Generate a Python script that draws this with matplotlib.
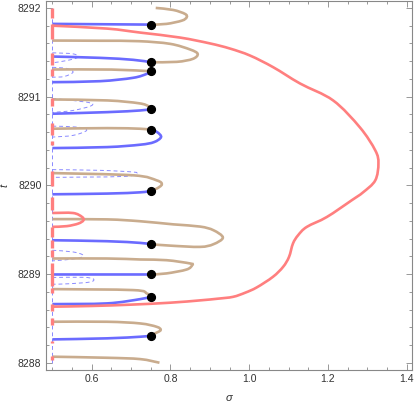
import matplotlib
matplotlib.use("Agg")
import matplotlib.pyplot as plt
import numpy as np
from matplotlib.path import Path
from matplotlib.patches import PathPatch
from matplotlib.ticker import MultipleLocator

plt.rcParams['font.family'] = ['Liberation Sans', 'DejaVu Sans']

BLUE = '#6B6BFF'
TAN = '#C9AC8E'
RED = '#FF7F7F'
DASH = '#8A8AFF'

# ---- data (sigma, t) ----
red_main_s = [0.50, 0.60, 0.70, 0.80, 0.875, 0.92, 0.959, 0.99, 1.019, 1.060, 1.086, 1.101,
              1.111, 1.124, 1.146, 1.197, 1.260, 1.289, 1.320, 1.328, 1.320, 1.281, 1.213,
              1.129, 1.061, 1.002, 0.951, 0.900, 0.824, 0.723, 0.639, 0.50]
red_main_t = [8288.632, 8288.640, 8288.655, 8288.677, 8288.703, 8288.722, 8288.743, 8288.79,
              8288.849, 8288.968, 8289.081, 8289.193, 8289.344, 8289.437, 8289.531, 8289.643,
              8289.831, 8289.921, 8290.056, 8290.248, 8290.394, 8290.653, 8290.957, 8291.148,
              8291.331, 8291.463, 8291.542, 8291.600, 8291.666, 8291.722, 8291.767, 8291.80]

red_loop_s = [0.5, 0.5525, 0.575, 0.579, 0.566, 0.537, 0.5]
red_loop_t = [8289.688, 8289.688, 8289.645, 8289.606, 8289.569, 8289.540, 8289.532]

# red pieces on the critical line sigma = 1/2 (t ranges)
red_line_segments = [(8291.89, 8292.0), (8291.655, 8291.823), (8291.351, 8291.497),
                     (8291.238, 8291.317), (8290.889, 8290.990), (8290.572, 8290.707),
                     (8290.453, 8290.495), (8289.989, 8290.158), (8289.719, 8289.865),
                     (8289.416, 8289.529), (8289.288, 8289.381), (8289.193, 8289.268),
                     (8288.866, 8289.122), (8288.781, 8288.838), (8288.58, 8288.657),
                     (8288.42, 8288.50), (8288.22, 8288.245), (8288.03, 8288.075)]

tan_curves = [
    ([0.7625, 0.807, 0.837, 0.841, 0.829, 0.790, 0.75],
     [8292.0, 8291.977, 8291.932, 8291.894, 8291.857, 8291.82, 8291.812]),
    ([0.5, 0.62, 0.72, 0.799, 0.850, 0.869, 0.857, 0.816, 0.75],
     [8291.632, 8291.63, 8291.625, 8291.595, 8291.531, 8291.482, 8291.426, 8291.392, 8291.388]),
    ([0.5, 0.65, 0.75],
     [8291.306, 8291.305, 8291.286]),
    ([0.5, 0.64, 0.72, 0.745, 0.75],
     [8290.968, 8290.957, 8290.925, 8290.89, 8290.859]),
    ([0.5, 0.639, 0.723, 0.75],
     [8290.638, 8290.645, 8290.638, 8290.627]),
    ([0.5, 0.705, 0.765, 0.778, 0.765, 0.75],
     [8290.138, 8290.113, 8290.056, 8290.011, 8289.963, 8289.938]),
    ([0.5, 0.639, 0.723, 0.807, 0.875, 0.909, 0.933, 0.909, 0.875, 0.80, 0.75],
     [8289.619, 8289.616, 8289.595, 8289.56, 8289.535, 8289.494, 8289.411, 8289.336,
      8289.306, 8289.32, 8289.336]),
    ([0.5, 0.639, 0.723, 0.790, 0.850, 0.855, 0.841, 0.790, 0.75],
     [8289.175, 8289.175, 8289.164, 8289.156, 8289.119, 8289.100, 8289.051, 8289.007, 8288.995]),
    ([0.5, 0.705, 0.740, 0.75],
     [8288.830, 8288.819, 8288.781, 8288.743]),
    ([0.5, 0.639, 0.723, 0.765, 0.775, 0.761, 0.75],
     [8288.462, 8288.462, 8288.443, 8288.405, 8288.368, 8288.331, 8288.304]),
    ([0.5, 0.639, 0.723, 0.772],
     [8288.068, 8288.056, 8288.041, 8288.0]),
]

blue_curves = [
    ([0.5, 0.75], [8291.82, 8291.812]),
    ([0.5, 0.621, 0.705, 0.75], [8291.452, 8291.437, 8291.415, 8291.388]),
    ([0.5, 0.621, 0.705, 0.740, 0.75], [8291.163, 8291.174, 8291.212, 8291.257, 8291.286]),
    ([0.5, 0.639, 0.723, 0.75], [8290.807, 8290.825, 8290.844, 8290.859]),
    ([0.75, 0.766, 0.776, 0.758, 0.723, 0.639, 0.5],
     [8290.627, 8290.60, 8290.544, 8290.487, 8290.458, 8290.431, 8290.420]),
    ([0.5, 0.639, 0.723, 0.75], [8289.899, 8289.907, 8289.921, 8289.938]),
    ([0.5, 0.639, 0.723, 0.75], [8289.381, 8289.370, 8289.351, 8289.336]),
    ([0.5, 0.75], [8288.995, 8288.995]),
    ([0.5, 0.639, 0.723, 0.75], [8288.661, 8288.669, 8288.717, 8288.743]),
    ([0.5, 0.639, 0.723, 0.75], [8288.263, 8288.275, 8288.293, 8288.304]),
]

dashed_curves = [
    ([0.5, 0.5525, 0.565, 0.537, 0.5], [8291.494, 8291.482, 8291.444, 8291.407, 8291.381]),
    ([0.5, 0.537, 0.5525, 0.530, 0.5], [8291.331, 8291.317, 8291.275, 8291.227, 8291.219]),
    ([0.5, 0.587, 0.600, 0.5525, 0.5], [8290.979, 8290.938, 8290.90, 8290.844, 8290.822]),
    ([0.5, 0.565, 0.587, 0.5525, 0.5], [8290.667, 8290.656, 8290.619, 8290.563, 8290.544]),
    ([0.5, 0.621, 0.705, 0.713, 0.688, 0.578, 0.5],
     [8290.177, 8290.169, 8290.150, 8290.132, 8290.101, 8290.093, 8290.090]),
    ([0.5, 0.5525, 0.578, 0.5625, 0.5], [8289.268, 8289.249, 8289.212, 8289.175, 8289.148]),
    ([0.5, 0.578, 0.604, 0.596, 0.54, 0.5], [8288.961, 8288.963, 8288.945, 8288.91, 8288.89, 8288.885]),
]

dot_s = [0.75] * 10
dot_t = [8291.812, 8291.388, 8291.286, 8290.859, 8290.627, 8289.938, 8289.336,
         8288.995, 8288.745, 8288.304]

x_major = [0.6, 0.8, 1.0, 1.2, 1.4]
y_major = [8288, 8289, 8290, 8291, 8292]


def smooth_path(s, t):
    """Cubic Bezier path passing through the read points (Catmull-Rom tangents)."""
    p = np.column_stack([s, t]).astype(float)
    n = len(p)
    verts = [p[0]]
    codes = [Path.MOVETO]
    for i in range(n - 1):
        p0 = p[i - 1] if i > 0 else p[i]
        p1 = p[i]
        p2 = p[i + 1]
        p3 = p[i + 2] if i + 2 < n else p[i + 1]
        verts += [p1 + (p2 - p0) / 6.0, p2 - (p3 - p1) / 6.0, p2]
        codes += [Path.CURVE4] * 3
    return Path(verts, codes)


def draw(ax, s, t, **kw):
    ax.add_patch(PathPatch(smooth_path(s, t), fill=False, **kw))


# ---- figure ----
fig = plt.figure(figsize=(4.15, 4.05), dpi=100)
ax = fig.add_axes([0.110, 0.0864, 0.883, 0.912])

ax.plot([0.5, 0.5], [8288.0, 8292.0], color=DASH, lw=0.7, ls=(0, (4, 3)), zorder=1)
for s, t in dashed_curves:
    draw(ax, s, t, edgecolor=DASH, lw=0.7, ls=(0, (4, 3)), zorder=1)
for a, b in red_line_segments:
    ax.plot([0.5, 0.5], [a, b], color=RED, lw=2.4, solid_capstyle='butt', zorder=3)
for s, t in tan_curves:
    draw(ax, s, t, edgecolor=TAN, lw=1.9, zorder=2, capstyle='butt')
for s, t in blue_curves:
    draw(ax, s, t, edgecolor=BLUE, lw=1.9, zorder=2, capstyle='butt')
draw(ax, red_loop_s, red_loop_t, edgecolor=RED, lw=1.9, zorder=2)
draw(ax, red_main_s, red_main_t, edgecolor=RED, lw=1.9, zorder=2)
ax.plot(dot_s, dot_t, 'o', color='black', ms=5.6, zorder=5, ls='none')

ax.set_xlim(0.483, 1.4135)
ax.set_ylim(8287.918, 8292.082)
ax.set_xticks(x_major)
ax.set_xticklabels([f"{v:.1f}" for v in x_major])
ax.set_yticks(y_major)
ax.set_yticklabels([str(v) for v in y_major])
ax.xaxis.set_minor_locator(MultipleLocator(0.05))
ax.yaxis.set_minor_locator(MultipleLocator(0.2))
ax.tick_params(which='both', direction='in', top=True, right=True, color='#888888',
               labelcolor='#333333', labelsize=7.5, width=0.6)
ax.tick_params(which='major', length=4.5, pad=3)
ax.tick_params(which='minor', length=2.5)
for sp in ax.spines.values():
    sp.set_color('#888888')
    sp.set_linewidth(0.8)

ax.set_xlabel('σ', fontsize=8, fontstyle='italic', color='#333333', labelpad=6)
ax.set_ylabel('t', fontsize=8, fontstyle='italic', color='#333333')
ax.yaxis.set_label_coords(-0.098, 0.5)

fig.savefig('out.png', dpi=100)
